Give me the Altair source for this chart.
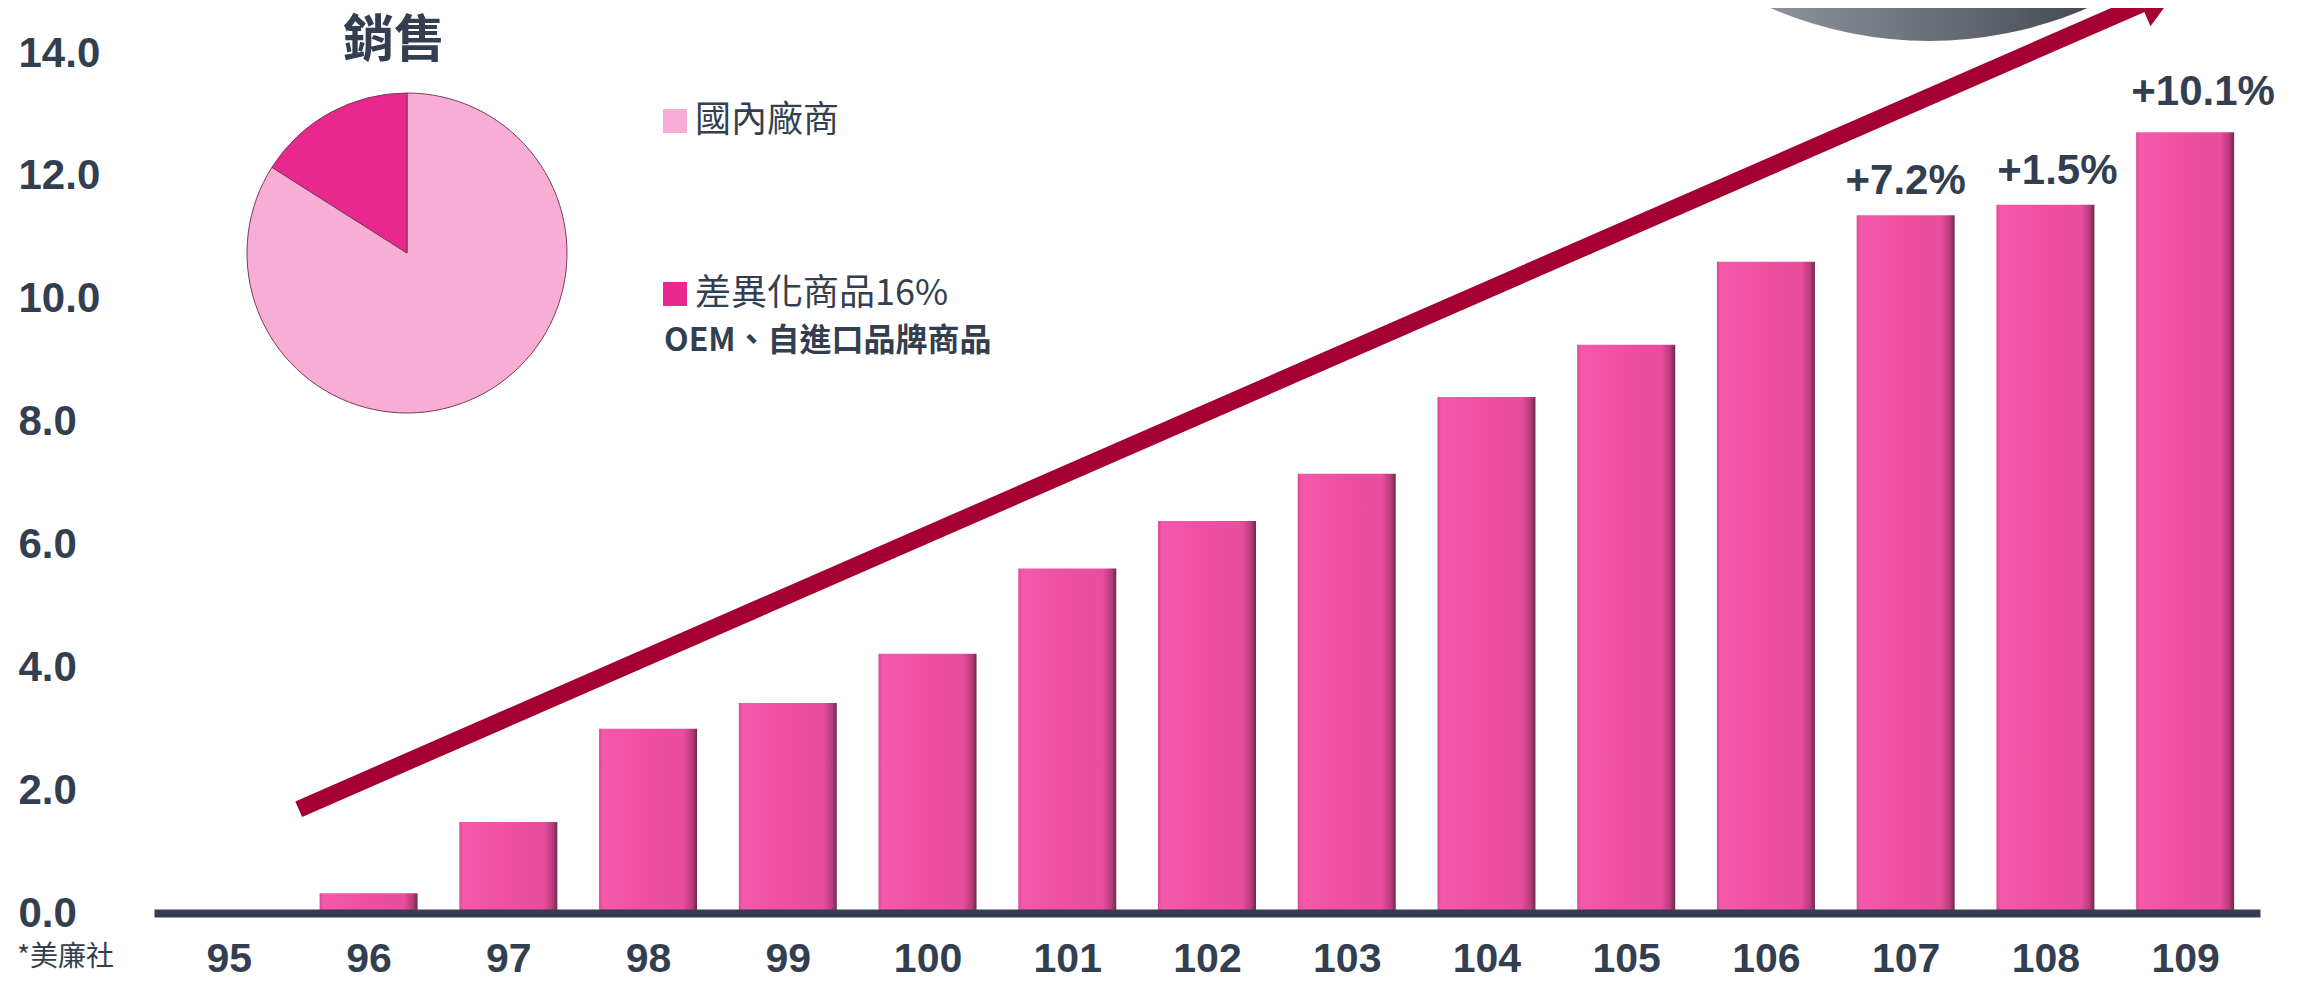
import altair as alt
import pandas as pd

# ---------------- data ----------------
years = ["95", "96", "97", "98", "99", "100", "101", "102", "103", "104",
         "105", "106", "107", "108", "109"]
sales = [0.0, 0.32, 1.48, 3.0, 3.42, 4.22, 5.61, 6.38, 7.15, 8.40,
         9.25, 10.60, 11.36, 11.53, 12.71]
growth_years = ["107", "108", "109"]
growth_labels = ["+7.2%", "+1.5%", "+10.1%"]
y_ticks = [0, 2, 4, 6, 8, 10, 12, 14]

pie_categories = ["國內廠商", "差異化商品16%"]
pie_shares = [84, 16]
pie_order = [0, 1]
pie_colors = ["#F8ADD5", "#E8288C"]

arrow_x = [0.5, 13.69]      # trend arrow in bar-index / value units
arrow_y = [1.69, 14.80]
arrow_head_x = [13.82]
arrow_head_y = [14.93]

title_text = "銷售"
note_text = "OEM、自進口品牌商品"
source_text = "*美廉社"

# ---------------- style ----------------
DARK = "#333F50"
NUM_FONT = "Liberation Sans"
CJK_FONT = "Noto Sans CJK TC"
W, H = 2106, 860
BAR_W = 98
label_dx = [0, 12, 18]
label_dy = [-34, -34, -40]

idx = list(range(len(years)))
bar_df = pd.DataFrame({"idx": idx, "year": years, "value": sales})
g_idx = [years.index(y) for y in growth_years]
growth_df = pd.DataFrame({"idx": g_idx, "value": [sales[i] for i in g_idx],
                          "label": growth_labels})
pie_df = pd.DataFrame({"cat": pie_categories, "share": pie_shares, "ord": pie_order})
arrow_df = pd.DataFrame({"idx": arrow_x, "value": arrow_y})
head_df = pd.DataFrame({"idx": arrow_head_x, "value": arrow_head_y})
one = pd.DataFrame({"k": [0]})

x_scale = alt.Scale(domain=[-0.5, len(years) - 0.5], nice=False, zero=False)
y_scale = alt.Scale(domain=[0, 14], nice=False, zero=True)
year_expr = "[" + ",".join("'%s'" % y for y in years) + "][datum.value]"

x_axis = alt.Axis(title=None, values=idx, labelExpr=year_expr, labelAngle=0,
                  labelFont=NUM_FONT, labelFontWeight="bold", labelFontSize=41,
                  labelColor=DARK, labelBaseline="middle", labelPadding=46,
                  labelFlush=False, labelOverlap=False,
                  ticks=False, tickSize=0, domainColor=DARK, domainWidth=8,
                  grid=False, zindex=1)
y_axis = alt.Axis(title=None, values=y_ticks, format=".1f",
                  labelFont=NUM_FONT, labelFontWeight="bold",
                  labelFontSize=42, labelColor=DARK,
                  labelAlign="left", labelBaseline="middle",
                  labelPadding=136, ticks=False, tickSize=0,
                  domain=False, grid=False)

X = alt.X("idx:Q", scale=x_scale, axis=x_axis)
Y = alt.Y("value:Q", scale=y_scale, axis=y_axis)

bar_gradient = alt.LinearGradient(
    gradient="linear", x1=0, x2=1, y1=0, y2=0,
    stops=[
        alt.GradientStop(color="#D94A93", offset=0.0),
        alt.GradientStop(color="#F558AA", offset=0.04),
        alt.GradientStop(color="#EE4FA1", offset=0.5),
        alt.GradientStop(color="#E94D9D", offset=0.86),
        alt.GradientStop(color="#B83C7C", offset=0.95),
        alt.GradientStop(color="#6E2A4C", offset=1.0),
    ],
)

bars = alt.Chart(bar_df).mark_bar(color=bar_gradient, size=BAR_W).encode(x=X, y=Y)

growth_layers = []
for gi, dx, dy in zip(g_idx, label_dx, label_dy):
    growth_layers.append(
        alt.Chart(growth_df).transform_filter(alt.datum.idx == gi).mark_text(
            font=NUM_FONT, fontWeight="bold", fontSize=42, color=DARK,
            baseline="middle", align="center", dx=dx, dy=dy,
        ).encode(x=X, y=Y, text="label:N")
    )

shaft = alt.Chart(arrow_df).mark_line(color="#A50034", strokeWidth=17,
                                      strokeCap="butt").encode(x=X, y=Y)
head = alt.Chart(head_df).mark_point(shape="triangle-up", size=2304, angle=66.5,
                                     filled=True, color="#A50034", opacity=1,
                                     strokeWidth=0).encode(x=X, y=Y)

circle_gradient = alt.LinearGradient(
    gradient="linear", x1=0, x2=1, y1=0, y2=0,
    stops=[
        alt.GradientStop(color="#B0B5BC", offset=0.0),
        alt.GradientStop(color="#8F96A0", offset=0.28),
        alt.GradientStop(color="#6B717B", offset=0.5),
        alt.GradientStop(color="#42454D", offset=0.72),
        alt.GradientStop(color="#2F3237", offset=1.0),
    ],
)
gray_circle = alt.Chart(one).mark_arc(radius=398, theta=0, theta2=6.2832,
                                      color=circle_gradient).encode(
    x=alt.value(1775), y=alt.value(-410))

pie = alt.Chart(pie_df).mark_arc(radius=160, stroke="#7A3A5C", strokeWidth=1).encode(
    theta=alt.Theta("share:Q", stack=True),
    order=alt.Order("ord:Q"),
    color=alt.Color("cat:N",
                    scale=alt.Scale(domain=pie_categories, range=pie_colors),
                    legend=alt.Legend(title=None, orient="none", legendX=503,
                                      legendY=50, direction="vertical",
                                      symbolType="square", symbolSize=576,
                                      symbolStrokeWidth=0, symbolOpacity=1,
                                      labelFont=CJK_FONT, labelFontSize=36,
                                      labelColor=DARK, labelLimit=0,
                                      labelOffset=2, rowPadding=137,
                                      padding=0, offset=0)),
    x=alt.value(253), y=alt.value(200),
)

title = alt.Chart(one).mark_text(text=title_text, font=CJK_FONT, fontWeight="bold",
                                 fontSize=51, color=DARK, align="center",
                                 baseline="middle").encode(
    x=alt.value(240), y=alt.value(-11))
note = alt.Chart(one).mark_text(text=note_text, font=CJK_FONT, fontWeight="bold",
                                fontSize=32, color=DARK, align="left",
                                baseline="middle").encode(
    x=alt.value(510), y=alt.value(288))
source = alt.Chart(one).mark_text(text=source_text, font=CJK_FONT, fontSize=28,
                                  color=DARK, align="left",
                                  baseline="middle").encode(
    x=alt.value(-137), y=alt.value(905))

chart = alt.layer(
    gray_circle, bars, *growth_layers, shaft, head, pie, title, note, source
).properties(
    width=W, height=H,
    padding={"left": 146, "top": 45, "right": 40, "bottom": 67},
    autosize=alt.AutoSizeParams(type="none"),
).configure_view(strokeWidth=0)

chart.save("out.html", embed_options={"renderer": "svg", "actions": False})
